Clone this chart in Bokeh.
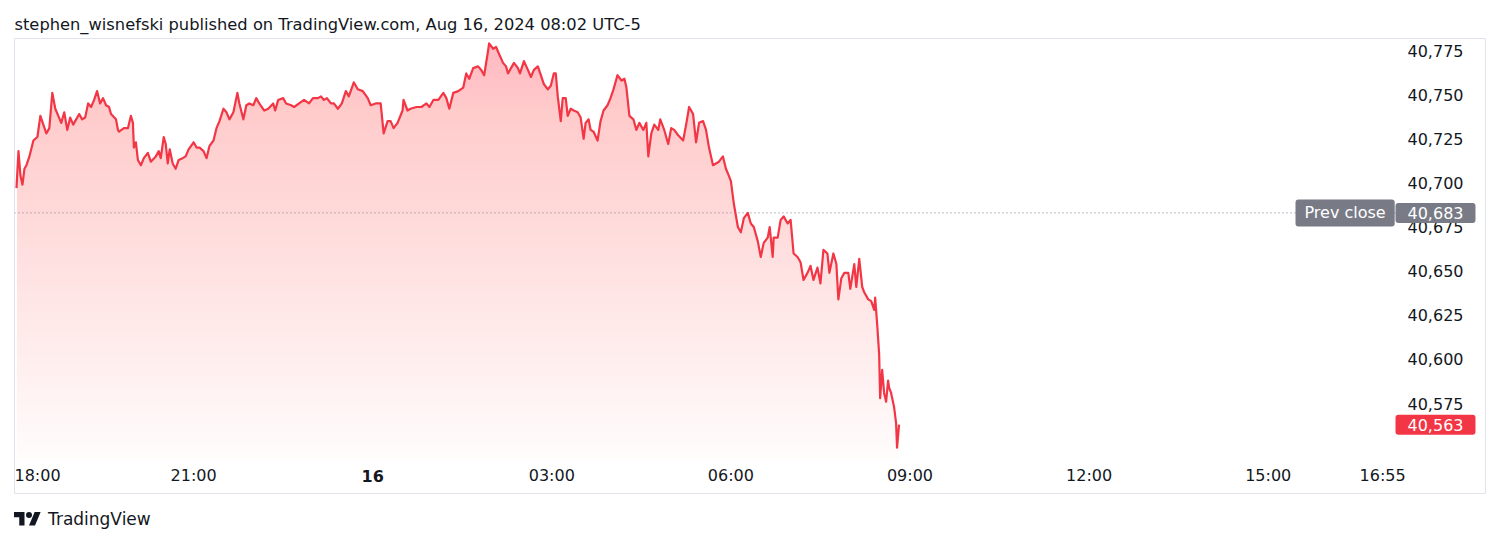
import numpy as np
from bokeh.plotting import figure
from bokeh.layouts import column
from bokeh.models import (Range1d, FixedTicker, NumeralTickFormatter, Label, Div)
from bokeh.embed import file_html
from bokeh.resources import INLINE

title_text = "stephen_wisnefski published on TradingView.com, Aug 16, 2024 08:02 UTC-5"

# minutes since 18:00 (Aug 15, UTC-5)
minutes = [
    2, 4, 6, 8, 10, 12, 15, 19, 23, 26,
    29, 32, 35, 38, 41, 44, 47, 50, 53, 56,
    59, 62, 65, 68, 71, 74, 77, 80, 83, 86,
    89, 92, 95, 97, 102, 104, 105, 110, 114, 117,
    119, 120, 122, 124, 127, 130, 134, 137, 142, 145,
    147, 150, 152, 154, 156, 159, 162, 165, 169, 172,
    175, 180, 183, 186, 190, 193, 196, 200, 203, 206,
    210, 213, 216, 220, 224, 226, 230, 233, 236, 240,
    243, 246, 251, 255, 260, 262, 265, 270, 273, 278,
    281, 286, 291, 296, 300, 305, 308, 311, 314, 318,
    321, 325, 329, 333, 336, 341, 345, 350, 355, 358,
    363, 368, 371, 375, 378, 381, 385, 390, 391, 395,
    398, 404, 409, 414, 417, 421, 426, 431, 434, 437,
    441, 446, 451, 454, 457, 461, 466, 469, 472, 476,
    477, 481, 484, 487, 491, 494, 496, 499, 502, 506,
    508, 512, 516, 519, 522, 526, 529, 532, 536, 539,
    542, 544, 546, 549, 551, 554, 556, 559, 562, 566,
    569, 572, 574, 577, 579, 582, 586, 589, 592, 596,
    599, 602, 606, 610, 613, 615, 618, 622, 625, 628,
    632, 635, 637, 640, 643, 647, 649, 653, 657, 660,
    663, 667, 672, 675, 678, 682, 685, 688, 692, 695,
    698, 702, 705, 708, 712, 715, 718, 720, 723, 727,
    730, 733, 737, 740, 743, 747, 750, 753, 757, 759,
    762, 763, 767, 770, 773, 777, 780, 783, 787, 790,
    793, 797, 800, 803, 807, 810, 813, 817, 819, 823,
    826, 828, 831, 834, 838, 840, 844, 846, 849, 852,
    854, 858, 861, 864, 865, 867, 869, 870, 872, 874,
    876, 878, 879, 881, 884, 886, 887, 889,
]

prices = [
    40697, 40718, 40704, 40699, 40708, 40710, 40715, 40724, 40726, 40738,
    40733, 40728, 40731, 40751, 40742, 40738, 40734, 40740, 40730, 40737,
    40733, 40736, 40739, 40736, 40737, 40745, 40743, 40747, 40752, 40745,
    40748, 40744, 40743, 40739, 40736, 40730, 40729, 40731, 40731, 40738,
    40734, 40720, 40723, 40713, 40710, 40714, 40717, 40712, 40715, 40718,
    40714, 40726, 40722, 40711, 40719, 40711, 40708, 40713, 40714, 40715,
    40719, 40723, 40720, 40720, 40718, 40714, 40721, 40724, 40731, 40735,
    40742, 40740, 40736, 40740, 40751, 40745, 40736, 40744, 40745, 40744,
    40748, 40745, 40741, 40742, 40745, 40741, 40747, 40748, 40745, 40744,
    40743, 40745, 40747, 40745, 40748, 40748, 40749, 40747, 40748, 40745,
    40745, 40742, 40745, 40752, 40749, 40757, 40753, 40752, 40748, 40744,
    40745, 40745, 40728, 40735, 40735, 40731, 40734, 40741, 40747, 40741,
    40742, 40743, 40743, 40745, 40743, 40747, 40747, 40751, 40748, 40742,
    40751, 40752, 40754, 40762, 40759, 40765, 40766, 40764, 40761, 40775,
    40779, 40776, 40777, 40773, 40768, 40766, 40762, 40765, 40768, 40765,
    40762, 40769, 40764, 40760, 40764, 40766, 40761, 40756, 40753, 40755,
    40762, 40762, 40749, 40735, 40748, 40748, 40738, 40742, 40741, 40740,
    40737, 40725, 40734, 40736, 40730, 40729, 40724, 40735, 40741, 40744,
    40748, 40753, 40761, 40758, 40759, 40754, 40738, 40736, 40730, 40734,
    40730, 40734, 40715, 40728, 40733, 40730, 40736, 40730, 40722, 40731,
    40730, 40727, 40724, 40733, 40743, 40739, 40723, 40734, 40735, 40730,
    40720, 40710, 40711, 40712, 40715, 40708, 40704, 40701, 40688, 40675,
    40672, 40680, 40683, 40677, 40675, 40667, 40658, 40666, 40669, 40675,
    40658, 40669, 40669, 40679, 40681, 40677, 40679, 40660, 40658, 40655,
    40645, 40649, 40653, 40645, 40652, 40643, 40662, 40660, 40649, 40660,
    40654, 40634, 40646, 40649, 40649, 40640, 40654, 40641, 40657, 40641,
    40638, 40634, 40633, 40628, 40635, 40620, 40603, 40578, 40594, 40581,
    40576, 40588, 40584, 40581, 40573, 40564, 40550, 40563,
]
assert len(minutes) == len(prices)

prev_close = 40683
last_price = 40563
price_ticks = [40575, 40600, 40625, 40650, 40675, 40700, 40725, 40750, 40775]
time_ticks = [180, 540, 720, 900, 1080, 1260, 1375]
time_labels = ["21:00", "03:00", "06:00", "09:00", "12:00", "15:00", "16:55"]
start_label = "18:00"
day_tick = 360
day_label = "16"

FONT = "DejaVu Sans"
TXT = "#131722"
RED = "#f23645"
GREY = "#787b86"

# ---- layout (pixels) ----
FRAME_W, FRAME_H = 1471, 455      # whole pane incl. price & time scales
PANE_W, PANE_H = 1381, 422        # plotting area
PX_PER_MIN = 0.995
PX_PER_PT = 1.765

y_hi = 40775 + 12 / PX_PER_PT
y_lo = y_hi - FRAME_H / PX_PER_PT
y_pane_lo = y_hi - PANE_H / PX_PER_PT
x_lo = 0
x_hi = FRAME_W / PX_PER_MIN
x_pane_hi = PANE_W / PX_PER_MIN
y_time_text = y_lo + 18 / PX_PER_PT

fig = figure(frame_width=FRAME_W, frame_height=FRAME_H,
             x_range=Range1d(x_lo, x_hi), y_range=Range1d(y_lo, y_hi),
             y_axis_location="right", output_backend="svg", toolbar_location=None,
             min_border_left=14, min_border_right=10, min_border_top=38, min_border_bottom=8,
             title=title_text, background_fill_color="white", border_fill_color="white")
fig.outline_line_color = "#e0e3eb"
fig.outline_line_width = 1
fig.grid.visible = False

fig.title.text_font = FONT
fig.title.text_font_size = "16.3px"
fig.title.text_font_style = "normal"
fig.title.text_color = TXT
fig.title.align = "left"
fig.title.standoff = 10

yax = fig.yaxis[0]
yax.ticker = FixedTicker(ticks=price_ticks)
yax.formatter = NumeralTickFormatter(format="0,0")
xax = fig.xaxis[0]
xax.ticker = FixedTicker(ticks=time_ticks)
xax.major_label_overrides = {t: lab for t, lab in zip(time_ticks, time_labels)}
for ax in (xax, yax):
    ax.axis_line_color = None
    ax.major_tick_line_color = None
    ax.minor_tick_line_color = None
    ax.major_tick_out = 0
    ax.major_tick_in = 0
    ax.major_label_text_font = FONT
    ax.major_label_text_font_size = "16px"
    ax.major_label_text_color = TXT
yax.major_label_standoff = -78
xax.major_label_standoff = -28

# gradient area under the line (stacked translucent layers)
x = np.array(minutes, dtype=float)
y = np.array(prices, dtype=float)
N = 60
edges = np.linspace(y_pane_lo, y_hi, N + 1)
centers = (edges[:-1] + edges[1:]) / 2
target = 0.015 + 0.27 * (centers - y_pane_lo) / (y_hi - y_pane_lo)
prev = 0.0
for k in range(N):
    a = 1 - (1 - target[k]) / (1 - prev)
    prev = target[k]
    lo = edges[k]
    top = np.maximum(y, lo)
    if np.all(top <= lo):
        break
    fig.varea(x=x, y1=np.full_like(x, lo), y2=top, fill_color=RED, fill_alpha=a)

# previous close dotted line
fig.segment(x0=[x_lo], y0=[prev_close], x1=[x_pane_hi], y1=[prev_close],
            line_color=GREY, line_dash="1 3", line_width=1)

fig.line(x, y, line_color=RED, line_width=2.2, line_join="round")

# edge time labels
fig.add_layout(Label(x=x_lo, y=y_time_text, text=start_label, text_font=FONT,
                     text_font_size="16px", text_color=TXT, text_align="left",
                     text_baseline="middle"))
fig.add_layout(Label(x=day_tick, y=y_time_text, text=day_label, text_font=FONT,
                     text_font_size="16px", text_font_style="bold", text_color=TXT,
                     text_align="center", text_baseline="middle"))

# price tags
fig.add_layout(Label(x=x_pane_hi - 100 / PX_PER_MIN, y=prev_close, text="Prev close",
                     text_font=FONT, text_font_size="16px", text_color="white",
                     text_align="left", text_baseline="middle",
                     background_fill_color=GREY, padding=dict(x=9, y=4), border_radius=3))
fig.add_layout(Label(x=x_pane_hi, y=prev_close, text=f"{prev_close:,}", text_font=FONT,
                     text_font_size="16px", text_color="white", text_align="left",
                     text_baseline="middle", background_fill_color=GREY,
                     padding=dict(x=12, y=4), border_radius=3))
fig.add_layout(Label(x=x_pane_hi, y=last_price, text=f"{last_price:,}", text_font=FONT,
                     text_font_size="16px", text_color="white", text_align="left",
                     text_baseline="middle", background_fill_color=RED,
                     padding=dict(x=12, y=4), border_radius=3))

# footer branding
logo_svg = ('<svg width="27" height="21" viewBox="0 0 36 28" xmlns="http://www.w3.org/2000/svg">'
            '<path fill="#131722" d="M14 22H7V11H0V4h14v18z"/>'
            '<path fill="#131722" d="M28 22h-8l7.5-18h8L28 22z"/>'
            '<circle fill="#131722" cx="20" cy="8" r="4"/></svg>')
footer = Div(text=('<div style="display:flex;align-items:center;height:36px;'
                   "font-family:'DejaVu Sans';font-size:17px;color:#131722;white-space:nowrap\">"
                   + logo_svg + '<span style="margin-left:7px">TradingView</span></div>'),
             width=300, height=36, margin=(0, 0, 0, 14))

p = column(fig, footer, spacing=0)

open("out.html", "w").write(file_html(p, INLINE))
